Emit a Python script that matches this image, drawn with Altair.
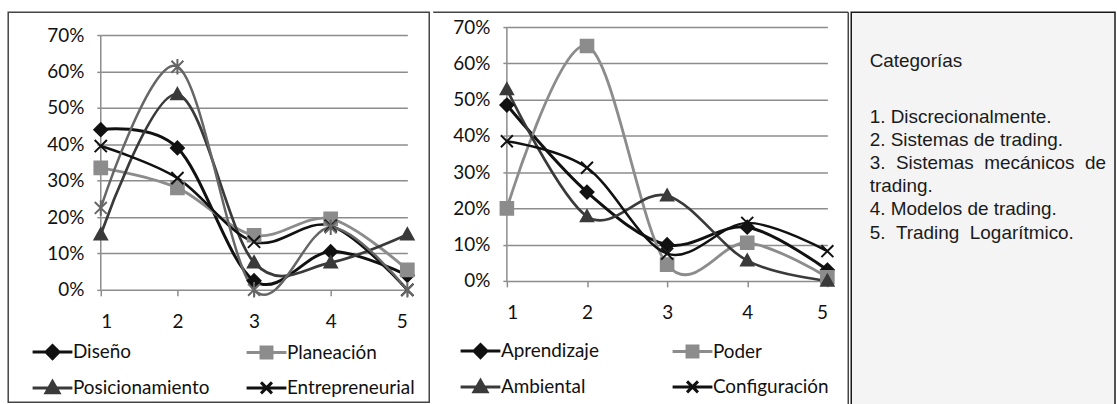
import altair as alt
import pandas as pd

# ---------------- data ----------------
cats = [1, 2, 3, 4, 5]

left_names = ["Diseño", "Planeación", "Posicionamiento", "Entrepreneurial", "Serie 5"]
diseno = [0.44, 0.39, 0.025, 0.105, 0.04]
planeacion = [0.335, 0.28, 0.15, 0.195, 0.055]
posicionamiento = [0.152, 0.537, 0.075, 0.075, 0.152]
entrepreneurial = [0.395, 0.307, 0.132, 0.176, 0.0]
serie5 = [0.225, 0.613, 0.0, 0.172, 0.0]
left_values = [diseno, planeacion, posicionamiento, entrepreneurial, serie5]
# legend is filled column by column: (Diseño, Posicionamiento) | (Planeación, Entrepreneurial)
left_legend = ["Diseño", "Posicionamiento", "Planeación", "Entrepreneurial"]

mid_names = ["Aprendizaje", "Poder", "Ambiental", "Configuración"]
aprendizaje = [0.485, 0.245, 0.10, 0.148, 0.03]
poder = [0.20, 0.648, 0.045, 0.105, 0.01]
ambiental = [0.528, 0.178, 0.235, 0.056, 0.0]
configuracion = [0.385, 0.312, 0.075, 0.16, 0.082]
mid_values = [aprendizaje, poder, ambiental, configuracion]
mid_legend = ["Aprendizaje", "Ambiental", "Poder", "Configuración"]

y_ticks = [0, 0.1, 0.2, 0.3, 0.4, 0.5, 0.6, 0.7]

box_title = "Categorías"
box_lines = [
    "1. Discrecionalmente.",
    "2. Sistemas de trading.",
    "3.\u00a0\u00a0Sistemas\u00a0\u00a0mecánicos\u00a0\u00a0de",
    "trading.",
    "4. Modelos de trading.",
    "5.\u00a0\u00a0Trading\u00a0\u00a0Logarítmico.",
]

# ---------------- styles ----------------
NARROW = "Lato, Liberation Sans, sans-serif"
SANS = "Liberation Sans, Arial, sans-serif"
GRID = "#8c8c8c"
FS = 19

BLACK = "#111111"
LGRAY = "#8c8c8c"
DGRAY = "#3a3a3a"
MGRAY = "#666666"
COLORS = {"Diseño": BLACK, "Planeación": LGRAY, "Posicionamiento": DGRAY,
          "Entrepreneurial": BLACK, "Serie 5": MGRAY,
          "Aprendizaje": BLACK, "Poder": LGRAY, "Ambiental": DGRAY, "Configuración": BLACK}

DIAMOND = "M0,-1L1,0L0,1L-1,0Z"
SQUARE = "M-1,-1H1V1H-1Z"
TRIANGLE = "M0,-1L1,0.8H-1Z"
XMARK = "M-1,-1L1,1M-1,1L1,-1"
STAR = "M-1,-1L1,1M-1,1L1,-1M0,-1.3V1.3"

L_DIAMOND = "M-2,0H2M0,-0.65L0.65,0L0,0.65L-0.65,0Z"
L_SQUARE = "M-2,0H2M-0.55,-0.55H0.55V0.55H-0.55Z"
L_TRIANGLE = "M-2,0H2M0,-0.65L0.65,0.5H-0.65Z"
L_X = "M-2,0H2M-0.55,-0.55L0.55,0.55M-0.55,0.55L0.55,-0.55"
LEG_SHAPES = {"Diseño": L_DIAMOND, "Planeación": L_SQUARE, "Posicionamiento": L_TRIANGLE,
              "Entrepreneurial": L_X, "Aprendizaje": L_DIAMOND, "Poder": L_SQUARE,
              "Ambiental": L_TRIANGLE, "Configuración": L_X}


def long_df(names, values):
    rows = []
    for n, vals in zip(names, values):
        for c, v in zip(cats, vals):
            rows.append({"serie": n, "cat": c, "val": v})
    return pd.DataFrame(rows)


def panel(df, names, widths, shapes, sizes, leg_names,
          width, height, ymax, leg_x, leg_y, col_pad, extras):
    colors = [COLORS[n] for n in names]
    leg_colors = [COLORS[n] for n in leg_names]
    leg_shapes = [LEG_SHAPES[n] for n in leg_names]
    xscale = alt.Scale(domain=[1, 5], nice=False, zero=False)
    xaxis = alt.Axis(values=cats, format="d", grid=False, domain=False,
                     ticks=True, tickSize=6, tickColor=GRID, tickWidth=1.5,
                     labelFont=NARROW, labelFontSize=FS, labelColor=BLACK,
                     labelPadding=25.5, labelBaseline="middle", labelOverlap=False,
                     title=None)
    yscale = alt.Scale(domain=[0, ymax], nice=False, zero=True)
    yaxis = alt.Axis(values=y_ticks, format=".0%", grid=True, gridColor=GRID,
                     gridWidth=1.5, domain=False, ticks=True, tickSize=4,
                     tickColor=GRID, tickWidth=1.5, labelPadding=13,
                     labelFont=NARROW, labelFontSize=FS, labelColor=BLACK,
                     labelOverlap=False, title=None)
    xenc = alt.X("cat:Q", scale=xscale, axis=xaxis)
    yenc = alt.Y("val:Q", scale=yscale, axis=yaxis)
    base = alt.Chart(df)
    lines = base.mark_line(interpolate="cardinal").encode(
        x=xenc, y=yenc,
        stroke=alt.Stroke("serie:N", scale=alt.Scale(domain=names, range=colors), legend=None),
        strokeWidth=alt.StrokeWidth("serie:N", scale=alt.Scale(domain=names, range=widths), legend=None),
    )
    yaxis_line = alt.Chart(pd.DataFrame({"cat": [1], "lo": [0.0], "hi": [0.7]})).mark_rule(
        color=GRID, strokeWidth=1.5).encode(
        x=alt.X("cat:Q", scale=xscale, axis=xaxis),
        y=alt.Y("lo:Q", scale=yscale, axis=yaxis), y2="hi:Q")
    points = base.mark_point(filled=True, strokeWidth=2, opacity=1).encode(
        x=xenc, y=yenc,
        shape=alt.Shape("serie:N", scale=alt.Scale(domain=names, range=shapes), legend=None),
        fill=alt.Fill("serie:N", scale=alt.Scale(domain=names, range=colors), legend=None),
        stroke=alt.Stroke("serie:N", scale=alt.Scale(domain=names, range=colors), legend=None),
        size=alt.Size("serie:N", scale=alt.Scale(domain=names, range=sizes), legend=None),
    )
    leg = alt.Legend(orient="none", legendX=leg_x, legendY=leg_y, columns=2,
                     columnPadding=col_pad, rowPadding=11, symbolSize=400,
                     symbolStrokeWidth=3, symbolOpacity=1, labelOffset=9,
                     labelFont=NARROW, labelFontSize=FS, labelColor=BLACK,
                     labelLimit=200, title=None, padding=0)
    legend_layer = base.transform_filter("false").mark_point(filled=True).encode(
        shape=alt.Shape("serie:N", scale=alt.Scale(domain=leg_names, range=leg_shapes), legend=leg),
        fill=alt.Fill("serie:N", scale=alt.Scale(domain=leg_names, range=leg_colors), legend=leg),
        stroke=alt.Stroke("serie:N", scale=alt.Scale(domain=leg_names, range=leg_colors), legend=leg),
    )
    layers = [lines] + list(extras) + [yaxis_line, points, legend_layer]
    return alt.layer(*layers).resolve_scale(
        shape="independent", fill="independent", stroke="independent",
        strokeWidth="independent", size="independent"
    ).resolve_legend(
        shape="independent", fill="independent", stroke="independent"
    ).properties(width=width, height=height)


one = pd.DataFrame({"z": [0]})

# left panel frame
left_frame = alt.Chart(one).mark_rect(fillOpacity=0, stroke="#444444", strokeWidth=1.5).encode(
    x=alt.value(-93), x2=alt.value(330), y=alt.value(-15), y2=alt.value(377))

# middle panel frame + text box
mid_top = alt.Chart(one).mark_rule(color="#444444", strokeWidth=1.5).encode(
    x=alt.value(-74), x2=alt.value(343), y=alt.value(-15))
mid_right = alt.Chart(one).mark_rule(color="#444444", strokeWidth=1.5).encode(
    x=alt.value(343), y=alt.value(-15), y2=alt.value(380))
text_box = alt.Chart(one).mark_rect(fill="#f4f4f4", stroke="#1a1a1a", strokeWidth=1.5).encode(
    x=alt.value(346), x2=alt.value(611), y=alt.value(-15), y2=alt.value(380))
box_t = alt.Chart(one).mark_text(align="left", baseline="middle", font=SANS, fontSize=19,
                                 color="#1a1a1a").encode(
    x=alt.value(364.5), y=alt.value(34), text=alt.value(box_title))
box_l = alt.Chart(one).mark_text(align="left", baseline="alphabetic", font=SANS, fontSize=19,
                                 lineHeight=23.2, color="#1a1a1a").encode(
    x=alt.value(364.5), y=alt.value(96.5), text=alt.value(box_lines))

left = panel(
    long_df(left_names, left_values), left_names,
    [3, 2.5, 3, 3, 2],
    [DIAMOND, SQUARE, TRIANGLE, XMARK, STAR], [169, 144, 169, 121, 169],
    left_legend,
    308, 264, 0.7 * 264 / 256, -60, 315, 30, [left_frame])

middle = panel(
    long_df(mid_names, mid_values), mid_names,
    [3, 2.5, 3, 3],
    [DIAMOND, SQUARE, TRIANGLE, XMARK], [169, 144, 169, 121],
    mid_legend,
    322, 255, 0.7, -38, 314, 67, [mid_top, mid_right, text_box, box_t, box_l])

chart = alt.hconcat(left, middle, spacing=0).properties(
    padding={"left": 6.25, "top": 9.25, "right": 0, "bottom": 0},
    background="white",
).configure_view(stroke="transparent")

chart.save("out.html", embed_options={"renderer": "svg", "actions": False})
